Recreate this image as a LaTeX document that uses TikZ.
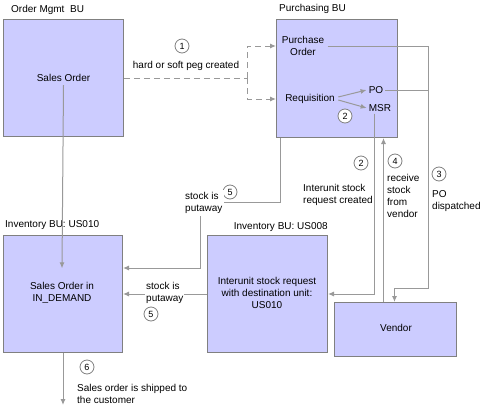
\documentclass[tikz,border=0pt]{standalone}
\usepackage{fontspec}
\setmainfont{Liberation Sans}
\usetikzlibrary{positioning, arrows.meta}
\definecolor{boxfill}{HTML}{CCCCFF}
\definecolor{boxline}{HTML}{808080}
\definecolor{flowline}{HTML}{999999}
\tikzset{
	unit/.style={draw=boxline, fill=boxfill, rectangle, line width=1pt, inner sep=0pt, anchor=north west},
	caption/.style={inner sep=0pt, anchor=west, align=left},
	% white patch behind labels that sit on a line
	onwire/.style={caption, fill=white, inner sep=2pt},
	marker/.style={draw=boxline, circle, fill=white, inner sep=0pt, minimum size=14pt, line width=0.8pt, font=\fontsize{9}{10}\selectfont},
	wire/.style={draw=flowline, line width=1pt},
	pegwire/.style={wire, dash pattern=on 6pt off 4pt},
}

\begin{document}
\begin{tikzpicture}[x=1pt, y=-1pt, font=\fontsize{10}{12}\selectfont]
		\useasboundingbox (0,0) rectangle (492,415);
		
		% business units
		\node (om) [unit, minimum width=120pt, minimum height=117pt] at (3,19) {};
		\node (pb) [unit, minimum width=121pt, minimum height=118pt] at (276,19) {};
		\node (iu) [unit, minimum width=119pt, minimum height=117pt] at (3,235) {};
		\node (ib) [unit, minimum width=120pt, minimum height=117pt] at (207,235) {};
		\node (vd) [unit, minimum width=122pt, minimum height=54pt] at (334,302) {};
		
		\node [caption] at (11,10) {Order Mgmt\ \ BU};
		\node [caption] at (279,9) {Purchasing BU};
		\node [caption] at (5,225) {Inventory BU: US010};
		\node [caption, anchor=east] at (328,227) {Inventory BU: US008};
		
		% texts inside the boxes
		\node (so) at (om.center) {Sales Order};
		\node (pord) [align=center] at (303,46) {Purchase\\Order};
		\node (req) at (310,99) {Requisition};
		\node (po) [inner sep=2pt] at (376,90) {PO};
		\node (msr) [inner sep=2pt] at (380,108) {MSR};
		\node (soin) [align=center] at (62,292.5) {Sales Order in\\IN\_DEMAND};
		\node (isr) [align=center] at (267,292.5) {Interunit stock request\\with destination unit:\\US010};
		\node (vnd) at (396,328) {Vendor};
		
		\coordinate (peg) at (247,78);
		\coordinate (bus) at (428,46);
		\coordinate (ship) at (62,405);
		
		\begin{scope}[-{Latex[length=6pt, width=5pt]}]
			\draw [pegwire, -] (om.east) -- (peg);
			\draw [pegwire] (peg) |- (pb.west |- pord);
			\draw [pegwire] (peg) |- (pb.west |- req);
			\draw [wire] ([yshift=2pt]req.east) -- (po.west);
			\draw [wire] ([yshift=-1pt]req.east) -- (msr.west);
			\draw [wire, -] (po.east) -- (po.east -| bus);
			\draw [wire] (pord.east) -| (428,288) -| ([xshift=-1pt]vd.north);
			\draw [wire] ([xshift=-6pt]msr.south) |- (ib.east);
			\draw [wire] ([xshift=-12pt]vd.north) -- ([xshift=-12pt]vd.north |- pb.south);
			\draw [wire] ([xshift=4pt]pb.south west) |- (200,202) |- ([yshift=26pt]iu.east);
			\draw [wire] (ib.west) -- (iu.east);
			\draw [wire] (so.south) -- ([yshift=10pt]soin.north);
			\draw [wire] (iu.south) -- (iu.south |- ship);
		\end{scope}
		
		% step labels
		\node [marker] (m1) at (182,46) {1};
		\node [caption, anchor=center] at (186,66) {hard or soft peg created};
		\node [marker] (m2a) at (345,116) {2};
		\node [marker] (m2b) at (361,163) {2};
		\node [caption] at (303,194.5) {Interunit stock\\request created};
		\node [marker] (m3) at (439,174) {3};
		\node [caption] at (432,201) {PO\\dispatched};
		\node [marker] (m4) at (395,161) {4};
		\node [caption] at (387,195.5) {receive\\stock\\from\\vendor};
		\node [marker] (m5a) at (230,192) {5};
		\node [onwire] at (183,203) {stock is\\putaway};
		\node [marker] (m5b) at (151,314) {5};
		\node [onwire, inner sep=1pt] at (145,293) {stock is\\putaway};
		\node [marker] (m6) at (87,367) {6};
		\node [caption] at (77,394) {Sales order is shipped to\\the customer};
	\end{tikzpicture}
\end{document}
